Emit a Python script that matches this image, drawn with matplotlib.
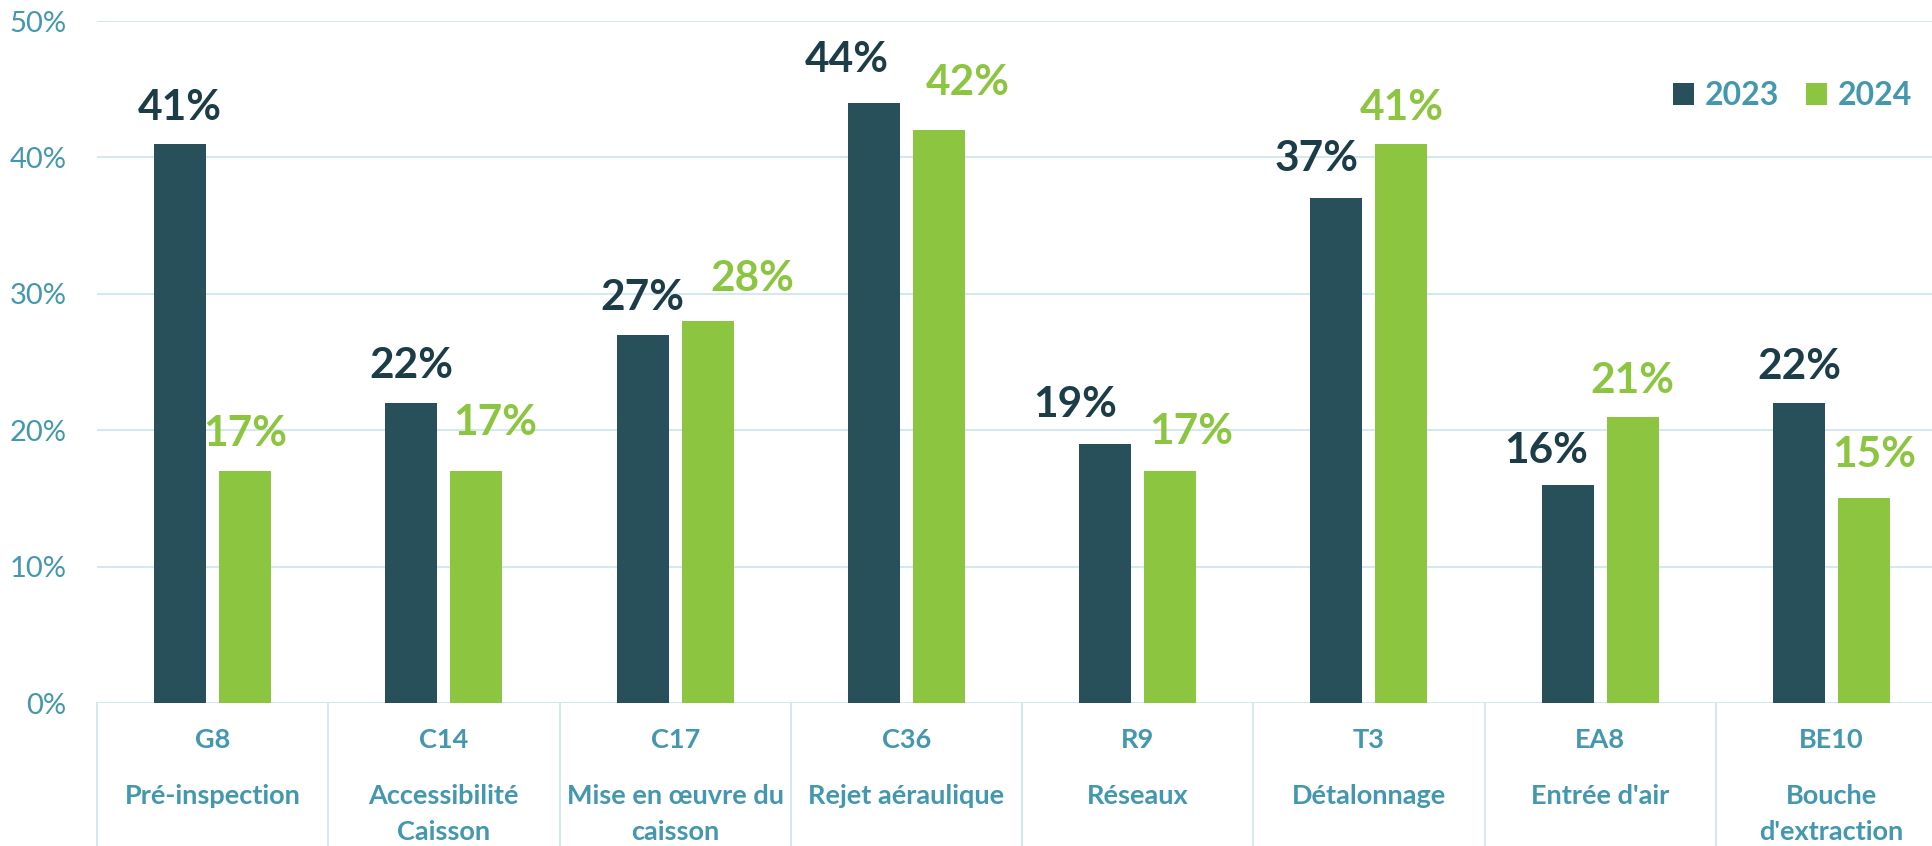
import numpy as np
import matplotlib.pyplot as plt

plt.rcParams['font.family'] = ['Lato', 'DejaVu Sans']

codes = ['G8', 'C14', 'C17', 'C36', 'R9', 'T3', 'EA8', 'BE10']
names = ['Pré-inspection', 'Accessibilité\nCaisson', 'Mise en œuvre du\ncaisson', 'Rejet aéraulique',
         'Réseaux', 'Détalonnage', "Entrée d'air", "Bouche\nd'extraction"]
vals_2023 = [41, 22, 27, 44, 19, 37, 16, 22]
vals_2024 = [17, 17, 28, 42, 17, 41, 21, 15]
yticks = [0, 10, 20, 30, 40, 50]

# label nudges (pixels) copied from the reference layout: (dx, gap above bar)
nudge_2023 = [(0, 24), (0, 25), (0, 25), (-27, 31), (-30, 27), (-20, 27), (-21, 22), (0, 24)]
nudge_2024 = [(0, 25), (19, 36), (45, 30), (29, 35), (21, 27), (0, 24), (0, 24), (10, 31)]

dark = '#28505b'
green = '#8cc640'
teal = '#4397ae'
grid = '#d5e8ee'

W, H = 1933, 846
fig = plt.figure(figsize=(W / 100, H / 100), dpi=100)
ax = fig.add_axes([97 / W, 143 / H, 1850 / W, 682 / H])

x = np.arange(len(codes))
off = 0.1405
bw = 0.225
ax.bar(x - off, vals_2023, bw, color=dark, label='2023', zorder=3)
ax.bar(x + off, vals_2024, bw, color=green, label='2024', zorder=3)

px = 0.72  # points per pixel at dpi 100
for xi, v, (dx, dy) in zip(x, vals_2023, nudge_2023):
    ax.annotate(f'{v}%', (xi - off, v), xytext=(dx * px, dy * px), textcoords='offset points',
                ha='center', va='baseline', fontsize=30.5, fontweight='bold', color='#1c3d47')
for xi, v, (dx, dy) in zip(x, vals_2024, nudge_2024):
    ax.annotate(f'{v}%', (xi + off, v), xytext=(dx * px, dy * px), textcoords='offset points',
                ha='center', va='baseline', fontsize=30.5, fontweight='bold', color=green)

ax.set_xlim(-0.5, len(codes) - 0.5)
ax.set_ylim(0, 50)
ax.set_yticks(yticks)
ax.set_yticklabels([f'{t}%' for t in yticks], fontsize=21, color=teal)
ax.tick_params(axis='y', length=0, pad=22)
ax.set_xticks([])
for s in ax.spines.values():
    s.set_visible(False)
for t in yticks:
    ax.axhline(t, color=grid, lw=1.5, zorder=1)

# category table below the axis
scale = 682 / 50  # pixels per percent
for i in range(len(codes) + 1):
    ax.plot([i - 0.5, i - 0.5], [0, -150 / scale], color=grid, lw=1.5, clip_on=False)
for xi, c, n in zip(x, codes, names):
    ax.text(xi, -37 / scale, c, ha='center', va='center', fontsize=19.5, fontweight='bold', color=teal)
    for k, line in enumerate(n.split('\n')):
        ax.text(xi, -(93 + 36 * k) / scale, line, ha='center', va='center', fontsize=19.5,
                fontweight='bold', color=teal)

ax.legend(ncol=2, frameon=False, loc='center right', bbox_to_anchor=(1912 / W, 1 - 95.5 / H),
          bbox_transform=fig.transFigure, handlelength=0.66, handleheight=0.66,
          handletextpad=0.34, columnspacing=0.84, borderpad=0, borderaxespad=0,
          labelcolor=teal, prop={'weight': 'bold', 'size': 23})

fig.savefig('out.png', dpi=100)
